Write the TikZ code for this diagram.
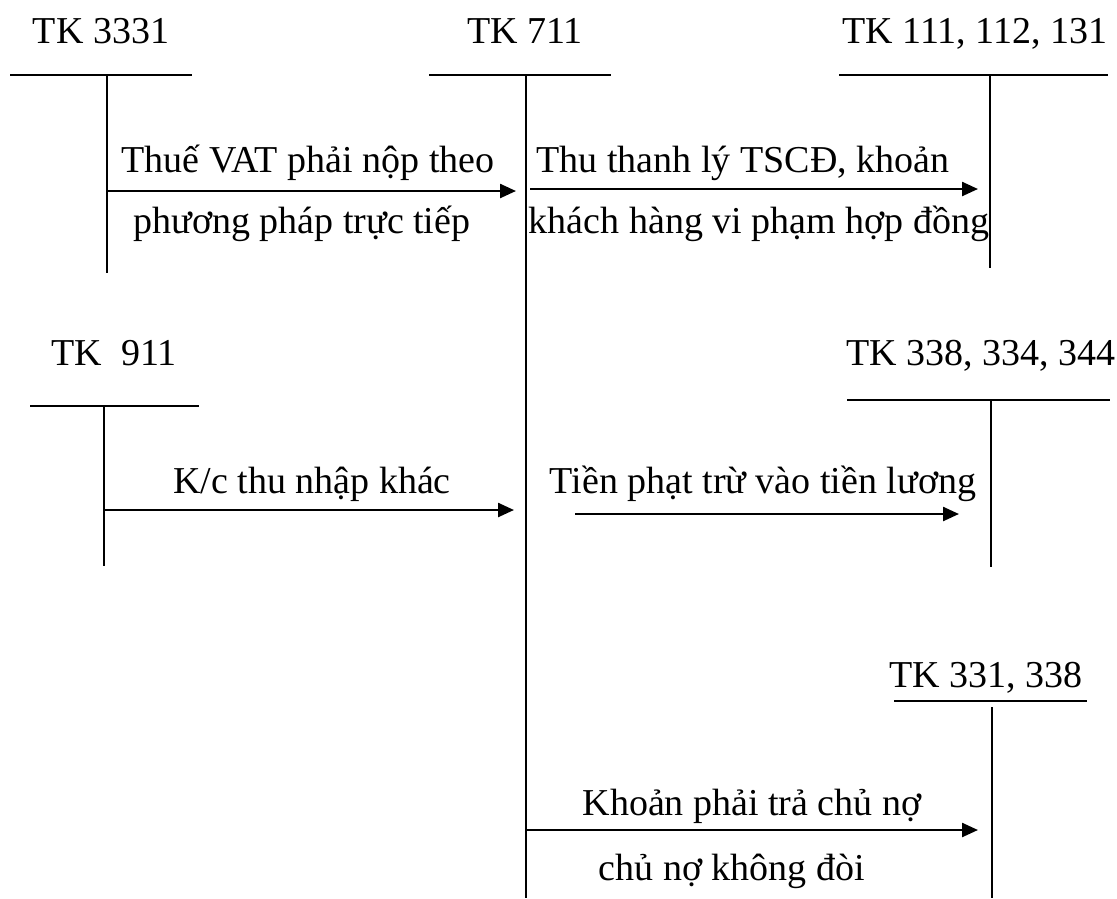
\documentclass[tikz,border=0pt]{standalone}
\usepackage{fontspec}
\setmainfont{Liberation Serif}
\usetikzlibrary{arrows.meta}
\begin{document}
\begin{tikzpicture}[x=1pt,y=-1pt,line width=2pt,
  lbl/.style={anchor=base,inner sep=0pt,font=\fontsize{38}{45}\selectfont},
  flow/.style={-{Triangle[length=16pt,width=14pt]},line width=2.4pt}]
\useasboundingbox (0,0) rectangle (1117,898);

% T-account TK 3331
\node[lbl] (t3331) at (101,43) {TK 3331};
\coordinate (t3331l) at (10,75);  \coordinate (t3331r) at (192,75);
\coordinate (t3331t) at (107,75); \coordinate (t3331b) at (107,273);
\draw (t3331l) -- (t3331r);
\draw (t3331t) -- (t3331b);

% T-account TK 711
\node[lbl] (t711) at (525,43) {TK 711};
\coordinate (t711l) at (429,75);  \coordinate (t711r) at (611,75);
\coordinate (t711t) at (526,75);  \coordinate (t711b) at (526,898);
\draw (t711l) -- (t711r);
\draw (t711t) -- (t711b);

% T-account TK 111, 112, 131
\node[lbl] (t111) at (975,43) {TK 111, 112, 131};
\coordinate (t111l) at (839,75);  \coordinate (t111r) at (1108,75);
\coordinate (t111t) at (990,75);  \coordinate (t111b) at (990,268);
\draw (t111l) -- (t111r);
\draw (t111t) -- (t111b);

% T-account TK 911
\node[lbl] (t911) at (114,365) {TK\ \ 911};
\coordinate (t911l) at (30,406);  \coordinate (t911r) at (199,406);
\coordinate (t911t) at (104,406); \coordinate (t911b) at (104,566);
\draw (t911l) -- (t911r);
\draw (t911t) -- (t911b);

% T-account TK 338, 334, 344
\node[lbl] (t338) at (981,365) {TK 338, 334, 344};
\coordinate (t338l) at (847,400); \coordinate (t338r) at (1110,400);
\coordinate (t338t) at (991,400); \coordinate (t338b) at (991,567);
\draw (t338l) -- (t338r);
\draw (t338t) -- (t338b);

% T-account TK 331, 338
\node[lbl] (t331) at (986,687) {TK 331, 338};
\coordinate (t331l) at (894,701); \coordinate (t331r) at (1087,701);
\coordinate (t331t) at (992,707); \coordinate (t331b) at (992,898);
\draw (t331l) -- (t331r);
\draw (t331t) -- (t331b);

% Entry 1: 3331 -> 711
\coordinate (e1s) at (107,191); \coordinate (e1e) at (516,191);
\draw[flow] (e1s) -- (e1e);
\node[lbl] (e1a) at (308,172) {Thuế VAT phải nộp theo};
\node[lbl] (e1b) at (302,233) {phương pháp trực tiếp};

% Entry 2: 711 -> 111, 112, 131
\coordinate (e2s) at (530,189); \coordinate (e2e) at (978,189);
\draw[flow] (e2s) -- (e2e);
\node[lbl] (e2a) at (743,172) {Thu thanh lý TSCĐ, khoản};
\node[lbl] (e2b) at (759,233) {khách hàng vi phạm hợp đồng};

% Entry 3: 911 -> 711
\coordinate (e3s) at (104,510); \coordinate (e3e) at (514,510);
\draw[flow] (e3s) -- (e3e);
\node[lbl] (e3a) at (312,493) {K/c thu nhập khác};

% Entry 4: 711 -> 338, 334, 344
\coordinate (e4s) at (575,514); \coordinate (e4e) at (959,514);
\draw[flow] (e4s) -- (e4e);
\node[lbl] (e4a) at (763,493) {Tiền phạt trừ vào tiền lương};

% Entry 5: 711 -> 331, 338
\coordinate (e5s) at (527,830); \coordinate (e5e) at (978,830);
\draw[flow] (e5s) -- (e5e);
\node[lbl] (e5a) at (752,815) {Khoản phải trả chủ nợ};
\node[lbl] (e5b) at (732,880) {chủ nợ không đòi};
\end{tikzpicture}
\end{document}
